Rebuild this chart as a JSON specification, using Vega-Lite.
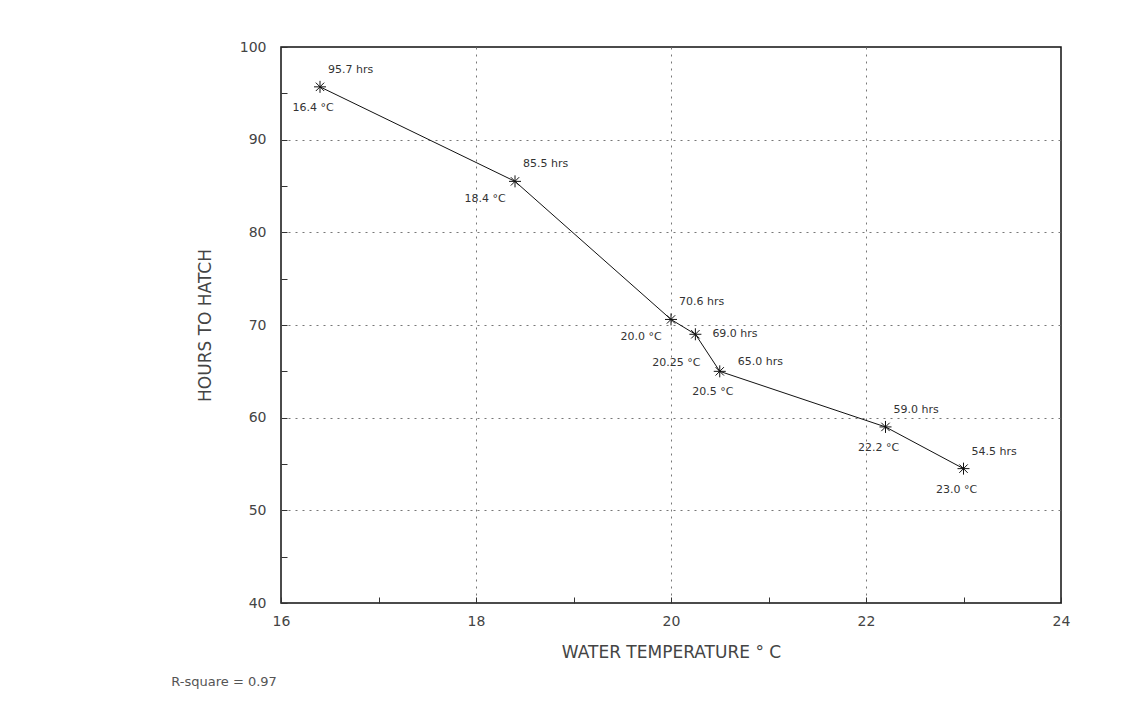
{
  "$schema": "https://vega.github.io/schema/vega-lite/v6.json",
  "width": 780,
  "height": 556,
  "autosize": {"type": "none"},
  "padding": {"left": 281, "top": 47, "right": 87, "bottom": 112},
  "background": "white",
  "config": {
    "view": {"stroke": "#111", "strokeWidth": 1.5},
    "font": "DejaVu Sans",
    "text": {"font": "DejaVu Sans", "fontSize": 11, "color": "#333"}
  },
  "title": {
    "text": "R-square = 0.97",
    "orient": "bottom",
    "anchor": "start",
    "dx": -25,
    "offset": 16,
    "fontSize": 13,
    "fontWeight": "normal",
    "color": "#555",
    "font": "DejaVu Sans"
  },
  "data": {
    "values": [
      {"temp": 16.4, "hours": 95.7, "hlabel": "95.7 hrs", "tlabel": "16.4 °C", "grp": "a"},
      {"temp": 18.4, "hours": 85.5, "hlabel": "85.5 hrs", "tlabel": "18.4 °C", "grp": "b"},
      {"temp": 20.0, "hours": 70.6, "hlabel": "70.6 hrs", "tlabel": "20.0 °C", "grp": "b"},
      {"temp": 20.25, "hours": 69.0, "hlabel": "69.0 hrs", "tlabel": "20.25 °C", "grp": "c"},
      {"temp": 20.5, "hours": 65.0, "hlabel": "65.0 hrs", "tlabel": "20.5 °C", "grp": "d"},
      {"temp": 22.2, "hours": 59.0, "hlabel": "59.0 hrs", "tlabel": "22.2 °C", "grp": "a"},
      {"temp": 23.0, "hours": 54.5, "hlabel": "54.5 hrs", "tlabel": "23.0 °C", "grp": "a"}
    ]
  },
  "encoding": {
    "x": {
      "field": "temp",
      "type": "quantitative",
      "scale": {"domain": [16, 24], "nice": false, "zero": false},
      "axis": {
        "values": [16, 17, 18, 19, 20, 21, 22, 23, 24],
        "title": "WATER TEMPERATURE  °  C",
        "labelExpr": "datum.value % 2 === 0 ? datum.label : ''",
        "labelFlush": false,
        "grid": true,
        "gridColor": {"condition": {"test": "datum.value % 2 === 0 && datum.value > 16 && datum.value < 24", "value": "#777"}, "value": "transparent"},
        "gridDash": [2, 5],
        "gridWidth": 1,
        "tickSize": -6,
        "tickColor": "#333",
        "domain": false,
        "labelPadding": 17,
        "labelFontSize": 14,
        "labelColor": "#444",
        "labelFont": "DejaVu Sans",
        "titleFontSize": 17,
        "titleFontWeight": "normal",
        "titleColor": "#444",
        "titleFont": "DejaVu Sans",
        "titlePadding": 16
      }
    },
    "y": {
      "field": "hours",
      "type": "quantitative",
      "scale": {"domain": [40, 100], "nice": false, "zero": false},
      "axis": {
        "values": [40, 45, 50, 55, 60, 65, 70, 75, 80, 85, 90, 95, 100],
        "title": "HOURS TO HATCH",
        "labelExpr": "datum.value % 10 === 0 ? datum.label : ''",
        "labelFlush": false,
        "grid": true,
        "gridColor": {"condition": {"test": "datum.value % 10 === 0 && datum.value > 40 && datum.value < 100", "value": "#777"}, "value": "transparent"},
        "gridDash": [2, 5],
        "gridWidth": 1,
        "tickSize": -6,
        "tickColor": "#333",
        "domain": false,
        "labelPadding": 21,
        "labelFontSize": 14,
        "labelColor": "#444",
        "labelFont": "DejaVu Sans",
        "titleFontSize": 17,
        "titleFontWeight": "normal",
        "titleColor": "#444",
        "titleFont": "DejaVu Sans",
        "titlePadding": 25
      }
    }
  },
  "layer": [
    {"mark": {"type": "line", "color": "#111", "strokeWidth": 1}},
    {
      "mark": {
        "type": "point",
        "shape": "M0,-1L0,1M-1,0L1,0M-0.7,-0.7L0.7,0.7M-0.7,0.7L0.7,-0.7",
        "filled": false,
        "stroke": "#111",
        "strokeWidth": 1,
        "size": 144,
        "opacity": 1
      }
    },
    {
      "transform": [{"filter": "datum.grp !== 'c' && datum.grp !== 'd'"}],
      "mark": {"type": "text", "align": "left", "baseline": "middle", "dx": 8, "dy": -17},
      "encoding": {"text": {"field": "hlabel"}}
    },
    {
      "transform": [{"filter": "datum.grp === 'c'"}],
      "mark": {"type": "text", "align": "left", "baseline": "middle", "dx": 17, "dy": 0},
      "encoding": {"text": {"field": "hlabel"}}
    },
    {
      "transform": [{"filter": "datum.grp === 'd'"}],
      "mark": {"type": "text", "align": "left", "baseline": "middle", "dx": 18, "dy": -9},
      "encoding": {"text": {"field": "hlabel"}}
    },
    {
      "transform": [{"filter": "datum.grp === 'a' || datum.grp === 'd'"}],
      "mark": {"type": "text", "align": "center", "baseline": "middle", "dx": -7, "dy": 21},
      "encoding": {"text": {"field": "tlabel"}}
    },
    {
      "transform": [{"filter": "datum.grp === 'b'"}],
      "mark": {"type": "text", "align": "center", "baseline": "middle", "dx": -30, "dy": 18},
      "encoding": {"text": {"field": "tlabel"}}
    },
    {
      "transform": [{"filter": "datum.grp === 'c'"}],
      "mark": {"type": "text", "align": "center", "baseline": "middle", "dx": -19, "dy": 29},
      "encoding": {"text": {"field": "tlabel"}}
    }
  ]
}
